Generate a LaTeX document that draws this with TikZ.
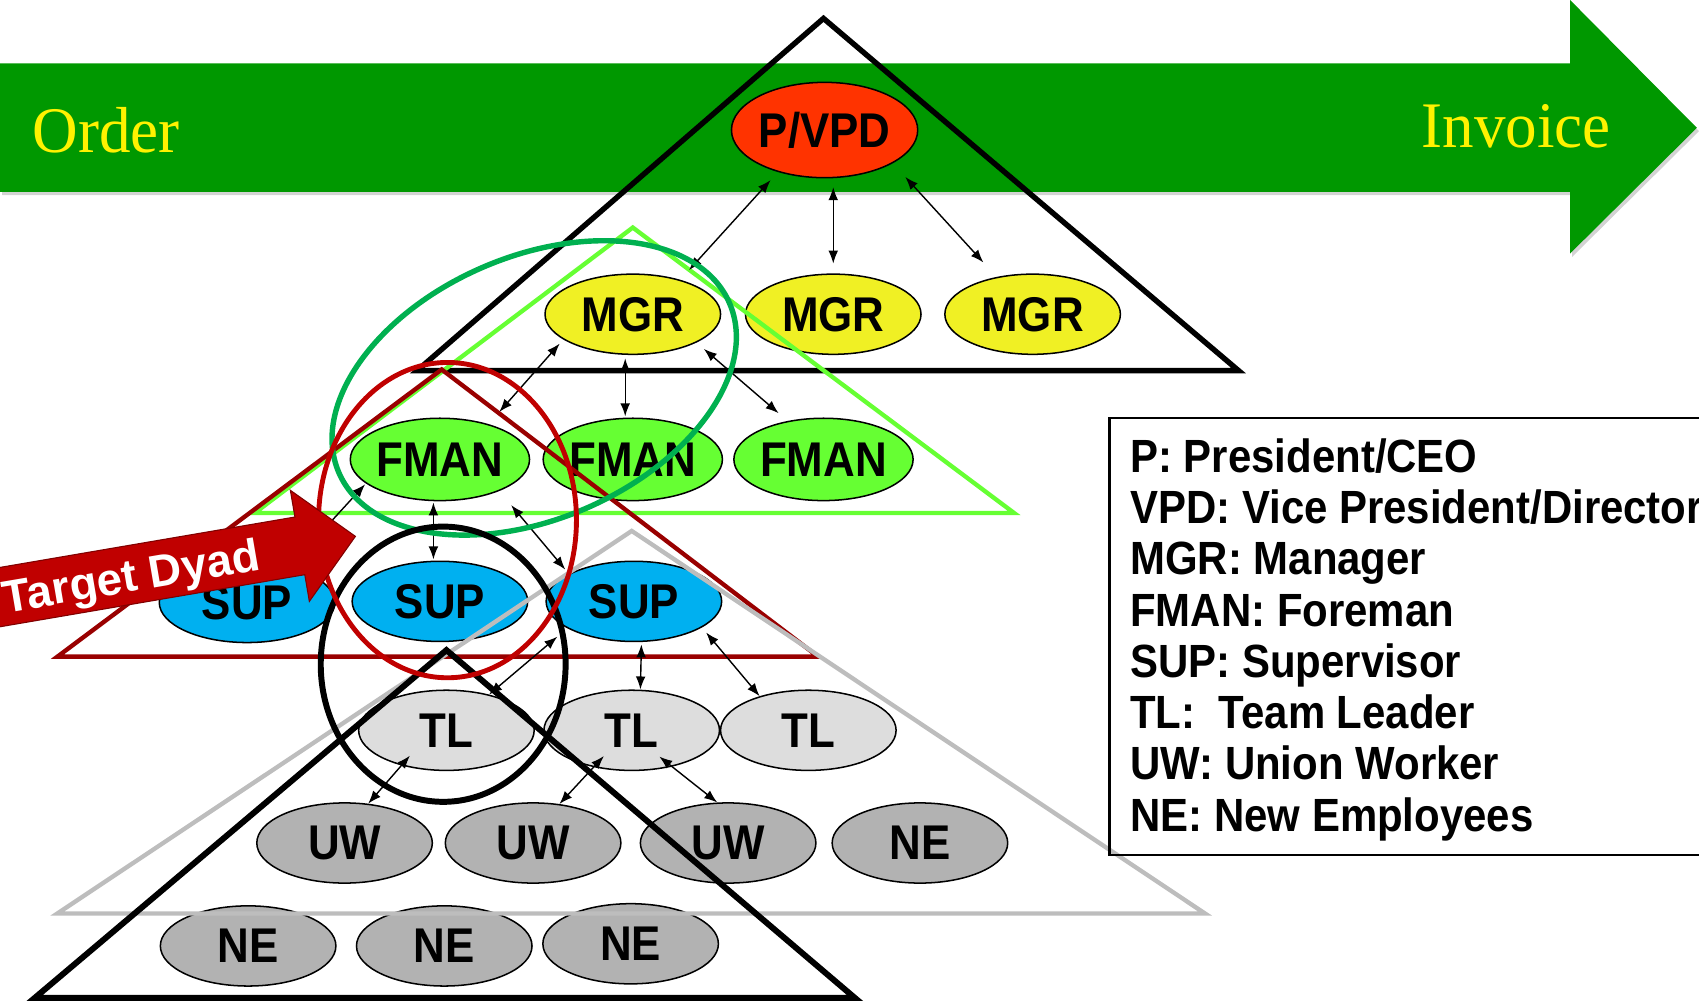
\documentclass[tikz,border=0pt]{standalone}
\usepackage{fontspec}
\usetikzlibrary{shapes.geometric,arrows.meta}
\newfontfamily\myNodeFont{Liberation Sans}[FakeStretch=0.9]
\newfontfamily\myLegFont{Liberation Sans}[FakeStretch=0.9]
\newfontfamily\mySerif{Liberation Serif}[FakeStretch=0.97]
\newfontfamily\myArial{Liberation Sans}
\definecolor{bandgreen}{RGB}{0,152,0}
\definecolor{ringgreen}{RGB}{0,176,80}
\definecolor{ringred}{RGB}{192,0,0}
\definecolor{trired}{RGB}{153,0,0}
\definecolor{dyadred}{RGB}{192,0,0}
\definecolor{dyaddark}{RGB}{128,0,0}
\definecolor{pvpdfill}{RGB}{255,51,0}
\definecolor{mgrfill}{RGB}{240,240,36}
\definecolor{fmanfill}{RGB}{102,255,51}
\definecolor{supfill}{RGB}{0,176,240}
\definecolor{tlfill}{RGB}{221,221,221}
\definecolor{uwfill}{RGB}{178,178,178}
\definecolor{trigrey}{RGB}{189,189,189}
\begin{document}
\begin{tikzpicture}[x=1pt,y=-1pt,
  role/.style={ellipse, draw=black, line width=1.4pt, minimum width=162pt,
    minimum height=74pt, inner sep=0pt,
    font=\myNodeFont\bfseries\fontsize{45}{45}\selectfont},
  link/.style={line width=1.3pt, {Latex[length=12pt,width=9pt]}-{Latex[length=12pt,width=9pt]}},
  legtxt/.style={inner sep=0pt, font=\myLegFont\bfseries\fontsize{43}{47}\selectfont},
  bandtxt/.style={inner sep=0pt, text=yellow, font=\mySerif\fontsize{60}{60}\selectfont},
  ring/.style={ellipse, inner sep=0pt, fill=none}]
\useasboundingbox (0,0) rectangle (1568,925);
\clip (0,0) rectangle (1568,925);

% process arrow band
\fill[gray, opacity=0.35, shift={(2,3)}] (0,58.5) -- (1449,58.5) -- (1449,0) -- (1566,118) -- (1449,234) -- (1449,177) -- (0,177) -- cycle;
\fill[bandgreen] (0,58.5) -- (1449,58.5) -- (1449,0) -- (1566,118) -- (1449,234) -- (1449,177) -- (0,177) -- cycle;
\node[bandtxt, anchor=base west] (order) at (30,141) {Order};
\node[bandtxt, anchor=base west] (invoice) at (1312,136) {Invoice};

% role nodes
\node[role, fill=pvpdfill, minimum height=88pt] (pvpd) at (761,120) {P/VPD};
\node[role, fill=mgrfill] (mgr1) at (584,290) {MGR};
\node[role, fill=mgrfill] (mgr2) at (769,290) {MGR};
\node[role, fill=mgrfill] (mgr3) at (953,290) {MGR};
\node[role, fill=fmanfill, minimum height=76pt] (fman1) at (406,424) {FMAN};
\node[role, fill=fmanfill, minimum height=76pt] (fman2) at (584,424) {FMAN};
\node[role, fill=fmanfill, minimum height=76pt] (fman3) at (760,424) {FMAN};
\node[role, fill=supfill] (sup1) at (228,556) {SUP};
\node[role, fill=supfill] (sup2) at (406,555) {SUP};
\node[role, fill=supfill] (sup3) at (585,555) {SUP};
\node[role, fill=tlfill] (tl1) at (412,674) {TL};
\node[role, fill=tlfill] (tl2) at (583,674) {TL};
\node[role, fill=tlfill] (tl3) at (746,674) {TL};
\node[role, fill=uwfill] (uw1) at (318,778) {UW};
\node[role, fill=uwfill] (uw2) at (492,778) {UW};
\node[role, fill=uwfill] (uw3) at (672,778) {UW};
\node[role, fill=uwfill] (ne1) at (849,778) {NE};
\node[role, fill=uwfill] (ne2) at (229,873) {NE};
\node[role, fill=uwfill] (ne3) at (410,873) {NE};
\node[role, fill=uwfill] (ne4) at (582,871) {NE};

% triangles
\draw[black, line width=5pt] (760,17) -- (1143,342) -- (385,342) -- cycle;
\draw[fmanfill, line width=4pt] (584,210) -- (936,473.5) -- (235,473.5) -- cycle;
\draw[trired, line width=4pt] (407.6,341) -- (755,606) -- (53,606) -- cycle;
\draw[trigrey, line width=4pt] (583,490) -- (1112,843) -- (53,843) -- cycle;
\draw[black, line width=5.5pt] (412,600) -- (789,921) -- (32,921) -- cycle;

% connectors
\draw[link, shorten <=10pt, shorten >=12pt] (pvpd.222) -- (mgr1.36);
\draw[link, shorten <=8pt, shorten >=9pt] (mgr2.north |- pvpd.south) -- (mgr2.north);
\draw[link, shorten <=17pt, shorten >=18pt] (pvpd.334) -- (mgr3.134);
\draw[link, shorten <=5pt, shorten >=15pt] (mgr1.200) -- (fman1.36);
\draw[link, shorten <=3pt, shorten >=1pt] ([xshift=-7pt]mgr1.south) -- ([xshift=-7pt]fman2.north);
\draw[link, shorten <=9pt, shorten >=11pt] (mgr1.336) -- (fman3.133);
\draw[link, shorten <=1pt, shorten >=10pt] (fman1.198) -- (sup1.40);
\draw[link, shorten <=1pt, shorten >=1pt] ([xshift=-6pt]fman1.south) -- ([xshift=-6pt]sup2.north);
\draw[link, shorten <=17pt, shorten >=5pt] (fman1.332) -- (sup3.157);
\draw[link, shorten <=12pt, shorten >=0pt] (sup3.202) -- (tl1.40);
\draw[link, shorten <=2pt, shorten >=0pt] ([xshift=7pt]sup3.south) -- ([xshift=8pt]tl2.north);
\draw[link, shorten <=6pt, shorten >=0pt] (sup3.339) -- (tl3.145);
\draw[link, shorten <=-12pt, shorten >=0pt] (tl1.218) -- (uw1.59);
\draw[link, shorten <=-14pt, shorten >=0pt] (tl2.224) -- (uw2.56);
\draw[link, shorten <=-15pt, shorten >=0pt] (tl2.318) -- (uw3.105);

% dyad rings
\node[ring, draw=ringgreen, line width=5pt, minimum width=393pt, minimum height=242pt, rotate=23.5] (gring) at (493,358) {};
\node[ring, draw=black, line width=5.5pt, minimum width=226pt, minimum height=254pt] (bring) at (409,613) {};
\node[ring, draw=ringred, line width=4.5pt, minimum width=238pt, minimum height=291pt] (rring) at (413,480) {};

% Target Dyad arrow
\begin{scope}[shift={(328,495)}, rotate=9.7]
\filldraw[fill=dyadred, draw=dyaddark, line width=1pt] (0,0) -- (-52,-52) -- (-52,-27) -- (-420,-27) -- (-420,27) -- (-52,27) -- (-52,52) -- cycle;
\end{scope}
\node[inner sep=0pt, anchor=base west, rotate=9.7, text=white, font=\myArial\bfseries\fontsize{42}{42}\selectfont] (dyadlabel) at (5,566) {Target Dyad};

% legend
\node[draw=black, line width=2pt, anchor=north west, minimum width=620pt, minimum height=403pt, inner sep=0pt] (legendbox) at (1023,385) {};
\foreach \t [count=\i from 0] in {P: President/CEO, VPD: Vice President/Director, MGR: Manager, FMAN: Foreman, SUP: Supervisor, TL:\ \ Team Leader, UW: Union Worker, NE: New Employees}
  \node[legtxt, anchor=base west] (leg\i) at (1043,{436+47.3*\i}) {\t};
\end{tikzpicture}
\end{document}
